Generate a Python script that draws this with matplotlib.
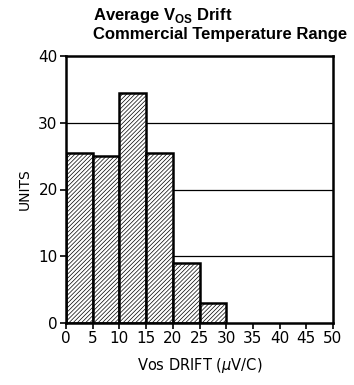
import matplotlib
matplotlib.use('Agg')
import matplotlib.pyplot as plt

plt.rcParams['hatch.linewidth'] = 0.5
plt.rcParams['mathtext.fontset'] = 'custom'
plt.rcParams['mathtext.rm'] = 'Liberation Sans'
plt.rcParams['mathtext.bf'] = 'Liberation Sans:bold'
plt.rcParams['mathtext.it'] = 'DejaVu Sans:italic'

bin_left = [0, 5, 10, 15, 20, 25]
units = [25.5, 25, 34.5, 25.5, 9, 3]
xticks = list(range(0, 55, 5))
yticks = [0, 10, 20, 30, 40]

fig = plt.figure(figsize=(3.54, 3.85), dpi=100)
ax = fig.add_axes([66/354, 1 - 323/385, (333-66)/354, (323-56)/385])

for y in yticks[1:-1]:
    ax.axhline(y, color='black', lw=0.9, zorder=0)

ax.bar(bin_left, units, width=5, align='edge', color='white', edgecolor='black',
       linewidth=1.8, hatch='////////', zorder=2)

ax.set_xlim(0, 50)
ax.set_ylim(0, 40)
ax.set_xticks(xticks)
ax.set_yticks(yticks)
ax.tick_params(direction='out', length=4, width=1.2, labelsize=11, pad=2)
for s in ax.spines.values():
    s.set_linewidth(1.8)

ax.set_xlabel('Vos DRIFT ($\\mu$V/C)', fontsize=10.5, labelpad=7)
ax.set_ylabel('UNITS', fontsize=10, labelpad=5)

fig.text(93/354, 1 - 6/385, 'Average V$_{\\mathbf{OS}}$ Drift',
         ha='left', va='top', fontsize=12, fontweight='bold', family='Liberation Sans')
fig.text(93/354, 1 - 27/385, 'Commercial Temperature Range',
         ha='left', va='top', fontsize=12, fontweight='bold', family='Liberation Sans')

fig.savefig('out.png', dpi=100)
